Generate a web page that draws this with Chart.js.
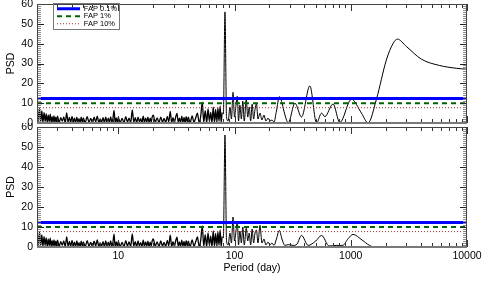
<!DOCTYPE html>
<html>
<head>
<meta charset="utf-8">
<script src="https://cdn.jsdelivr.net/npm/chart.js@4/dist/chart.umd.min.js"></script>
<style>
  html, body { margin: 0; padding: 0; background: #fff; }
  #wrap { position: relative; width: 491px; height: 281px; }
  #topChart { position: absolute; left: 0; top: 0; }
  #bottomChart { position: absolute; left: 0; top: 123px; }
</style>
</head>
<body>
<div id="wrap">
  <canvas id="topChart" width="491" height="131"></canvas>
  <canvas id="bottomChart" width="491" height="158"></canvas>
</div>
<script>
// Periodo (dias) y PSD
const periodMin = 2;
const periodMax = 10000;
const xTickValues = [10, 100, 1000, 10000];
const yTickValues = [0, 10, 20, 30, 40, 50, 60];

// parte ruidosa de periodo corto (igual en los dos paneles)
const shortPeriods = [
  2.00, 2.05, 2.10, 2.15, 2.20, 2.25, 2.30, 2.35, 2.40, 2.45, 2.50, 2.55, 2.60, 2.65, 2.70, 2.75, 2.80, 2.85, 2.90, 2.95,
  3.0, 3.1, 3.2, 3.3, 3.4, 3.5, 3.6, 3.7, 3.8, 3.9, 4.0, 4.1, 4.2, 4.3, 4.4, 4.5, 4.6, 4.7, 4.8, 4.9,
  5.0, 5.2, 5.4, 5.6, 5.8, 6.0, 6.2, 6.4, 6.6, 6.8, 7.0, 7.2, 7.4, 7.6, 7.8, 8.0, 8.2, 8.4, 8.6, 8.8, 9.0, 9.2, 9.4, 9.6, 9.8,
  10.0, 10.4, 10.8, 11.2, 11.6, 12.0, 12.4, 12.8, 13.2, 13.6, 14.0, 14.4, 14.8, 15.2, 15.6, 16.0, 16.4, 16.8, 17.2, 17.6, 18.0, 18.4, 18.8, 19.2, 19.6,
  20.0, 20.8, 21.6, 22.4, 23.2, 24.0, 24.8, 25.6, 26.4, 27.2, 28.0, 28.8, 29.6, 30.4, 31.2, 32.0, 32.8, 33.6, 34.4, 35.2, 36.0, 36.8, 37.6, 38.4, 39.2,
  40.0, 41.6, 43.2, 44.8, 46.4, 48.0, 49.6, 51.2, 52.8, 54.4, 56.0, 57.6, 59.2, 60.8, 62.4, 64.0, 65.6, 67.2, 68.8, 70.4, 72.0, 73.6, 75.2, 76.8, 78.4
];
const shortPsd = [
  9.2, 1.1, 7.4, 0.6, 6.1, 0.3, 5.2, 0.8, 4.6, 0.2, 3.9, 0.7, 4.4, 0.2, 3.2, 0.5, 3.6, 0.3, 2.9, 0.6,
  3.4, 0.2, 2.7, 0.9, 3.1, 0.1, 5.1, 0.4, 2.8, 0.3, 3.3, 0.6, 2.4, 0.1, 3.0, 0.5, 2.2, 0.2, 2.9, 0.4,
  2.6, 0.2, 3.2, 0.4, 2.3, 0.1, 2.9, 0.6, 3.5, 0.2, 2.1, 0.5, 2.7, 0.1, 3.0, 0.4, 2.4, 0.2, 3.1, 0.5, 2.2, 6.4, 0.3, 2.6, 0.4,
  2.8, 0.3, 2.3, 0.1, 3.2, 0.5, 2.5, 0.2, 6.6, 0.4, 2.7, 0.1, 3.0, 0.6, 2.2, 0.2, 3.4, 0.3, 2.5, 0.5, 2.9, 0.1, 2.4, 0.5, 3.1,
  4.0, 0.4, 2.6, 0.2, 3.0, 0.5, 2.3, 0.2, 3.3, 0.6, 5.9, 0.1, 2.7, 0.3, 3.1, 4.9, 0.5, 2.5, 0.2, 3.4, 0.4, 2.8, 0.1, 3.2, 0.6,
  2.9, 0.3, 3.6, 0.4, 2.7, 5.0, 0.2, 3.4, 10.5, 0.3, 6.2, 0.1, 7.1, 0.8, 5.4, 0.1, 8.0, 0.4, 6.8, 0.1, 7.5, 0.9, 8.5, 0.2, 5.2
];

// panel superior, periodos largos
const longPeriodsTop = [
  80.2, 82.8, 85.4, 88.2, 91.4, 94.1, 97.1, 100, 103, 105.7, 108.3, 111.3, 114.6, 117.9, 121.3, 126.3, 130, 133.8,
  137.8, 141.8, 146, 150.2, 154.6, 159.2, 165.7, 172.2, 179.1, 186.5, 194, 201.8, 210, 218.5, 229.4, 243, 254.5, 266,
  290, 331, 377, 445, 508, 561, 598, 705, 805, 1014, 1236, 1409, 1663, 2025, 2307, 2518, 3008, 4046, 5808, 8075, 10000
];
const longPsdTop = [
  4.5, 56, 3, 1, 8, 2, 15.5, 3, 9, 13.5, 1, 9, 2, 11, 1, 12, 3, 8,
  1, 9.5, 2, 7, 9.8, 2, 5, 1.5, 4, 1, 2.5, 1, 1.5, 0.5, 6, 13.3, 10.8, 6,
  0.2, 10, 3, 18.7, 0, 5, 3.2, 9.6, 0.2, 12, 5, 0, 12, 31.8, 40, 42.3, 38.6, 32.2, 29, 27.6, 27.1
];

// panel inferior, periodos largos
const longPeriodsBottom = [
  80.2, 82.8, 85.4, 88.2, 91.4, 94.1, 97.1, 100, 103, 105.7, 108.3, 111.3, 114.6, 117.9, 121.3, 126.3, 130, 133.8,
  137.8, 141.8, 146, 150.2, 154.6, 159.2, 165.7, 172.2, 179.1, 186.5, 194, 201.8, 210, 218.5, 229.4, 243, 256, 271,
  290, 320, 345, 377, 430, 500, 561, 652, 750, 853, 950, 1047, 1250, 1450, 1607, 2000, 3000, 5000, 10000
];
const longPsdBottom = [
  4.5, 56, 3, 1, 7, 2, 15, 3, 8, 13, 1, 8, 2, 10, 1, 9.5, 3, 7,
  1, 9, 2, 7, 8.5, 2, 10.8, 2, 4, 1, 2.5, 1, 2, 0.8, 4, 8.3, 4, 0.8,
  1.2, 0.8, 1.5, 5.8, 0.8, 3, 5.8, 0.5, 0.8, 0.8, 4.2, 6.3, 3.5, 0.8, 0, 0, 0, 0, 0
];

// niveles de falsa alarma
const fapLabels = ["FAP 0.1%", "FAP 1%", "FAP 10%"];
const fapLevels = [12.3, 10, 7.7];
const fapStyles = [
  { color: "#0000ff", width: 3, dash: [] },
  { color: "#006400", width: 2, dash: [5, 4] },
  { color: "#a52a2a", width: 1, dash: [1, 2] },
];

Chart.defaults.font.family = "'Liberation Sans', Arial, sans-serif";
Chart.defaults.font.size = 10.5;
Chart.defaults.color = "#000";

// quita el relleno automatico que Chart.js deja para las etiquetas
function sinRelleno(scale) {
  scale.paddingTop = 0;
  scale.paddingBottom = 0;
  scale.paddingLeft = 0;
  scale.paddingRight = 0;
}

// ticks hacia dentro, marco y caja de la leyenda (estilo IDL)
const frameTicks = {
  id: "frameTicks",
  afterLayout(chart) {
    const lg = chart.legend;
    if (!lg || !lg.options.display) return;
    const a = chart.chartArea;
    lg.left = a.left + 20;
    lg.right = lg.left + lg.width;
    lg.top = a.top + 1;
    lg.bottom = lg.top + lg.height;
  },
  afterDraw(chart) {
    const { ctx, chartArea: a, scales } = chart;
    const x = scales.x, y = scales.y;
    const hLine = (x0, x1, py) => { ctx.beginPath(); ctx.moveTo(x0, py); ctx.lineTo(x1, py); ctx.stroke(); };
    const vLine = (px, y0, y1) => { ctx.beginPath(); ctx.moveTo(px, y0); ctx.lineTo(px, y1); ctx.stroke(); };
    ctx.save();
    ctx.lineWidth = 1;

    ctx.strokeStyle = "#8c8c8c";
    for (let v = 1; v < 60; v++) {
      if (v % 10 === 0) continue;
      const py = Math.round(y.getPixelForValue(v)) + 0.5;
      hLine(a.left, a.left + 4, py);
      hLine(a.right - 4, a.right, py);
    }
    ctx.strokeStyle = "#222";
    yTickValues.forEach((v) => {
      const py = Math.round(y.getPixelForValue(v)) + 0.5;
      hLine(a.left, a.left + 7, py);
      hLine(a.right - 7, a.right, py);
    });

    ctx.strokeStyle = "#333";
    for (let d = 1; d < periodMax; d *= 10) {
      for (let m = 2; m <= 9; m++) {
        const v = m * d;
        if (v <= periodMin || v >= periodMax) continue;
        const px = Math.round(x.getPixelForValue(v)) + 0.5;
        vLine(px, a.bottom, a.bottom - 4);
        vLine(px, a.top, a.top + 4);
      }
    }
    xTickValues.forEach((v) => {
      const px = Math.round(x.getPixelForValue(v)) + 0.5;
      vLine(px, a.bottom, a.bottom - 7);
      vLine(px, a.top, a.top + 7);
    });

    ctx.strokeStyle = "#444";
    ctx.strokeRect(a.left + 0.5, a.top + 0.5, a.width - 1, a.height - 1);
    ctx.strokeStyle = "#7a7a7a";
    ctx.lineWidth = 2;
    hLine(a.left, a.right, a.bottom);

    // marco de la leyenda
    const lg = chart.legend;
    if (lg && lg.options.display && lg.columnSizes && lg.columnSizes.length) {
      const col = lg.columnSizes[0];
      const l = Math.round(lg.left - 4) + 0.5;
      const t = Math.round(lg.top - 2) + 0.5;
      ctx.lineWidth = 1;
      ctx.strokeStyle = "#777";
      ctx.strokeRect(l, t, Math.round(col.width + 6), Math.round(col.height + 3));
    }
    ctx.restore();
  },
};

function crearPanel(id, periods, psd, conEjeX, conLeyenda) {
  const ctx = document.getElementById(id).getContext("2d");
  const fapSets = fapLevels.map((nivel, i) => ({
    label: fapLabels[i],
    data: [{ x: periodMin, y: nivel }, { x: periodMax, y: nivel }],
    borderColor: fapStyles[i].color,
    backgroundColor: fapStyles[i].color,
    borderWidth: fapStyles[i].width,
    borderDash: fapStyles[i].dash,
    pointRadius: 0,
  }));
  return new Chart(ctx, {
    type: "line",
    data: {
      datasets: fapSets.concat([{
        label: "PSD",
        data: periods.map((p, i) => ({ x: p, y: psd[i] })),
        borderColor: "#000",
        borderWidth: 1,
        pointRadius: 0,
        cubicInterpolationMode: "monotone",
        segment: { borderWidth: (s) => (s.p1.parsed.x < 80 ? 1.3 : 1) },
      }]),
    },
    options: {
      responsive: false,
      animation: false,
      events: [],
      layout: { padding: conEjeX ? { top: 4, right: 24, left: 0, bottom: 7 } : { top: 4, right: 24, left: 0, bottom: 8 } },
      plugins: {
        tooltip: { enabled: false },
        legend: {
          display: conLeyenda,
          position: "chartArea",
          align: "start",
          labels: {
            usePointStyle: true,
            pointStyle: "line",
            pointStyleWidth: 23,
            padding: 0,
            font: { size: 7.5 },
            color: "#000",
            generateLabels: () => fapLabels.map((texto, i) => ({
              text: texto,
              datasetIndex: i,
              hidden: false,
              pointStyle: "line",
              fontColor: "#000",
              fillStyle: fapStyles[i].color,
              strokeStyle: fapStyles[i].color,
              lineWidth: fapStyles[i].width,
              lineDash: fapStyles[i].dash,
            })),
          },
        },
      },
      scales: {
        x: {
          type: "logarithmic",
          min: periodMin,
          max: periodMax,
          display: conEjeX,
          grid: { display: false, drawTicks: false },
          border: { display: false },
          afterBuildTicks: (scale) => { scale.ticks = xTickValues.map((v) => ({ value: v })); },
          afterFit: (scale) => { if (conEjeX) scale.height = 27; sinRelleno(scale); },
          ticks: { padding: 3, maxRotation: 0, autoSkip: false, callback: (v) => String(v) },
          title: { display: true, text: "Period (day)", padding: { top: 0, bottom: 0 } },
        },
        y: {
          min: 0,
          max: 60,
          grid: { display: false, drawTicks: false },
          border: { display: false },
          afterBuildTicks: (scale) => { scale.ticks = yTickValues.map((v) => ({ value: v })); },
          afterFit: (scale) => { scale.width = 37; sinRelleno(scale); },
          ticks: { padding: 4 },
          title: { display: true, text: "PSD", padding: { top: 5, bottom: 0 } },
        },
      },
    },
    plugins: [frameTicks],
  });
}

crearPanel("topChart", shortPeriods.concat(longPeriodsTop), shortPsd.concat(longPsdTop), false, true);
crearPanel("bottomChart", shortPeriods.concat(longPeriodsBottom), shortPsd.concat(longPsdBottom), true, false);
</script>
</body>
</html>
